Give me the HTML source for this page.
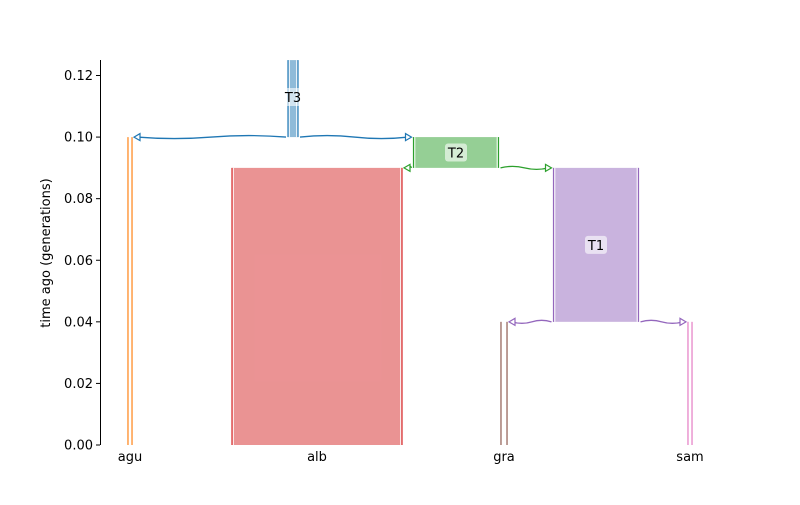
<!DOCTYPE html>
<html><head><meta charset="utf-8"><style>
body{margin:0;background:#fff}
svg text{font-family:"DejaVu Sans","Liberation Sans",sans-serif;font-size:13px}
</style></head><body>
<svg id="c" width="800" height="500"></svg>
<script>
const demeNames=["agu","alb","gra","sam","T1","T2","T3"];
const demeCenters=[130,317,504,690,596,456,293];
const demeWidths=[4,170,6,4,85,85,10];
const demeStart=[0.10,0.09,0.04,0.04,0.09,0.10,0.125];
const demeEnd=[0,0,0,0,0.04,0.09,0.10];
const demeColors=["#ff7f0e","#d62728","#8c564b","#e377c2","#9467bd","#2ca02c","#1f77b4"];
const yTicks=[0,0.02,0.04,0.06,0.08,0.10,0.12];
const yTickLabels=["0.00","0.02","0.04","0.06","0.08","0.10","0.12"];
const xTickNames=["agu","alb","gra","sam"];
const arrowFrom=["T3","T3","T2","T2","T1","T1"];
const arrowTo=["agu","T2","alb","T1","gra","sam"];
const arrowTime=[0.10,0.10,0.09,0.09,0.04,0.04];

const svg=document.getElementById('c');
const NS="http://www.w3.org/2000/svg";
const y=v=>445-v*(445-75.5)/0.12;
function mk(t,a,p){const e=document.createElementNS(NS,t);for(const k in a)e.setAttribute(k,a[k]);(p||svg).appendChild(e);return e;}
const clip=mk('clipPath',{id:'cp'});mk('rect',{x:100,y:60,width:700,height:390},clip);
const g=mk('g',{'clip-path':'url(#cp)'});
const idx=n=>demeNames.indexOf(n);

demeNames.forEach((n,i)=>{
  const c=demeCenters[i],w=demeWidths[i],t=y(demeStart[i]),b=y(demeEnd[i]);
  const col=demeColors[i];
  if(w>8){
    const r=mk('rect',{x:c-w/2,y:t,width:w,height:b-t,fill:col,'fill-opacity':0.5},g);
    
    
  }
  [c-w/2,c+w/2].forEach((xx,k)=>{
    const l=mk('line',{x1:xx,x2:xx,y1:t,y2:b,stroke:col,'stroke-width':1.2},g);
    
    
    mk('line',{x1:xx+(k?-1.3:1.3),x2:xx+(k?-1.3:1.3),y1:t,y2:b,stroke:'#fff','stroke-width':1},g);
  });
});

arrowFrom.forEach((f,i)=>{
  const a=idx(f),b=idx(arrowTo[i]);
  const yy=y(arrowTime[i]);
  const dir=demeCenters[b]>demeCenters[a]?1:-1;
  const x1=demeCenters[a]+dir*demeWidths[a]/2+dir*2;
  const x2=demeCenters[b]-dir*demeWidths[b]/2-dir*5;
  const col=demeColors[a];
  const m=(x1+x2)/2;
  const p=mk('path',{d:`M${x1},${yy} Q${(x1+m)/2},${yy-3} ${m},${yy} T${x2},${yy}`,fill:'none',stroke:col,'stroke-width':1.3});
  
  
  mk('path',{d:`M${x2+dir*3},${yy} L${x2-dir*3},${yy-3.5} L${x2-dir*3},${yy+3.5} Z`,fill:'#fff',stroke:col,'stroke-width':1.2});
});

["T1","T2","T3"].forEach(n=>{
  const i=idx(n);const top=Math.min(demeStart[i],0.1235);
  const cy=n==="T3"?97:(y(top)+y(demeEnd[i]))/2;
  mk('rect',{x:demeCenters[i]-11,y:cy-9,width:22,height:18,rx:3,fill:'#fff','fill-opacity':0.6});
  const t=mk('text',{x:demeCenters[i],y:cy+5,'text-anchor':'middle'});t.textContent=n;
  
  
});

const ax=mk('line',{x1:100.5,x2:100.5,y1:60,y2:445,stroke:'#000','stroke-width':1});


yTicks.forEach((v,i)=>{
  mk('line',{x1:96,x2:100,y1:y(v),y2:y(v),stroke:'#000'});
  const t=mk('text',{x:93,y:y(v)+4.5,'text-anchor':'end'});t.textContent=yTickLabels[i];
  
  
});
xTickNames.forEach(n=>{
  const c=demeCenters[idx(n)];
  const t=mk('text',{x:c,y:461,'text-anchor':'middle'});t.textContent=n;
  
  
});
const yt=mk('text',{x:50,y:253,'text-anchor':'middle',transform:'rotate(-90 50 253)'});
yt.textContent="time ago (generations)";


</script>
</body></html>
